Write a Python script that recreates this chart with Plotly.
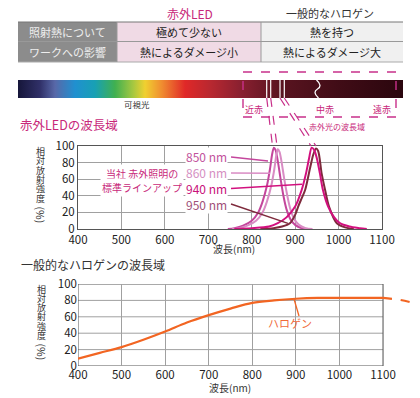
import plotly.graph_objects as go

# ---------------- data ----------------
led_850_x = [745, 760, 780, 800, 815, 825, 835, 842, 847, 851, 855, 860, 866, 873, 880, 890, 900, 915, 930]
led_850_y = [0, 1, 4, 10, 20, 33, 52, 72, 90, 98, 95, 82, 62, 40, 24, 11, 5, 1, 0]
led_860_x = [755, 770, 790, 810, 825, 835, 845, 852, 857, 860, 864, 869, 875, 882, 889, 899, 909, 924, 940]
led_860_y = [0, 1, 4, 10, 20, 33, 52, 72, 90, 96, 93, 80, 60, 40, 24, 11, 5, 1, 0]
led_940_x = [760, 800, 840, 860, 880, 900, 915, 925, 932, 938, 944, 950, 957, 964, 976, 990, 1003, 1025, 1049, 1065]
led_940_y = [0, 1, 3, 7, 14, 27, 47, 67, 85, 98, 95, 85, 67, 47, 27, 14, 7, 3, 1, 0]
led_950_x = [820, 850, 870, 888, 900, 907, 915, 923, 935, 942, 948, 953, 961, 969, 978, 996, 1015, 1035]
led_950_y = [0, 1, 3, 7, 17, 27, 37, 47, 75, 90, 97, 94, 67, 47, 27, 7, 2, 0]
halogen_x = [400, 450, 500, 550, 600, 650, 700, 750, 800, 850, 900, 950, 1000, 1050, 1100]
halogen_y = [9, 16, 23, 32, 42, 53, 62, 70, 77, 80, 82, 83, 83, 83, 83]
halogen_ext_x = [1100, 1135, 1162]
halogen_ext_y = [83, 81, 78]

x_ticks = [400, 500, 600, 700, 800, 900, 1000, 1100]
y_ticks = [0, 20, 40, 60, 80, 100]
led_labels = ["850 nm", "860 nm", "940 nm", "950 nm"]
led_colors = ["#c4469c", "#d98cc4", "#d2107e", "#7e2a3c"]
label_colors = ["#c2529c", "#d58fc2", "#c8107a", "#a05078"]

table_header = ["赤外LED", "一般的なハロゲン"]
table_rows = ["照射熱について", "ワークへの影響"]
table_led = ["極めて少ない", "熱によるダメージ小"]
table_hal = ["熱を持つ", "熱によるダメージ大"]
ylabel_chars = ["相", "対", "放", "射", "強", "度"]

FONT = "Noto Sans CJK JP"
MAG = "#c8287a"
W, H = 420, 398

fig = go.Figure()

# LED curves
for xs, ys, c in [(led_850_x, led_850_y, led_colors[0]), (led_860_x, led_860_y, led_colors[1]),
                  (led_950_x, led_950_y, led_colors[3]), (led_940_x, led_940_y, led_colors[2])]:
    fig.add_trace(go.Scatter(x=xs, y=ys, mode="lines", line=dict(color=c, width=2, shape="spline", smoothing=0.8),
                             xaxis="x", yaxis="y", showlegend=False, hoverinfo="skip"))

# halogen
fig.add_trace(go.Scatter(x=halogen_x, y=halogen_y, mode="lines", line=dict(color="#f26522", width=2.2, shape="spline"),
                         xaxis="x2", yaxis="y2", showlegend=False, hoverinfo="skip"))
fig.add_trace(go.Scatter(x=halogen_ext_x, y=halogen_ext_y, mode="lines",
                         line=dict(color="#f26522", width=2.2, dash="dash", shape="spline"),
                         xaxis="x2", yaxis="y2", showlegend=False, hoverinfo="skip"))

# spectrum bar (pixel canvas axis x3/y3)
spec_scale = [[0, "#16163a"], [0.057, "#303068"], [0.096, "#5868a8"], [0.148, "#2090d0"], [0.2, "#18a0b4"],
              [0.252, "#40b050"], [0.30, "#a8c840"], [0.33, "#f0d030"], [0.374, "#f08c30"], [0.434, "#e02828"],
              [0.5, "#b82830"], [0.577, "#8a2030"], [0.68, "#5a1420"], [0.836, "#400c16"], [1, "#2a060e"]]
fig.add_trace(go.Scatter(x=[18, 403, 403, 18, 18], y=[80, 80, 98, 98, 80], mode="lines", fill="toself",
                         fillgradient=dict(type="horizontal", colorscale=spec_scale, start=18, stop=403),
                         line=dict(width=0), xaxis="x3", yaxis="y3", showlegend=False, hoverinfo="skip"))

ax_common = dict(showgrid=True, gridcolor="#a0a0a0", gridwidth=1, zeroline=False, ticks="", automargin=False,
                 tickfont=dict(size=11.5, color="#222", family=FONT), fixedrange=True)

fig.update_layout(
    template="none",
    width=W, height=H, autosize=False, margin=dict(l=0, r=0, t=0, b=0, pad=0, autoexpand=False),
    paper_bgcolor="white", plot_bgcolor="rgba(0,0,0,0)",
    font=dict(family=FONT, color="#222"),
    xaxis=dict(domain=[78 / W, 382 / W], range=[400, 1100], tickvals=x_ticks, anchor="y",
               showline=True, mirror=True, linecolor="#555", linewidth=1, **ax_common),
    yaxis=dict(domain=[1 - 229 / H, 1 - 146 / H], range=[0, 100], tickvals=y_ticks, anchor="x",
               showline=True, mirror=True, linecolor="#555", linewidth=1, **ax_common),
    xaxis2=dict(domain=[78 / W, 413.5 / W], range=[400, 1170], tickvals=x_ticks, anchor="y2",
                showline=False, **ax_common),
    yaxis2=dict(domain=[1 - 366 / H, 1 - 284 / H], range=[0, 100], tickvals=y_ticks, anchor="x2",
                showline=False, **{**ax_common, "showgrid": False}),
    xaxis3=dict(domain=[0, 1], range=[0, W], visible=False, anchor="y3", fixedrange=True, automargin=False),
    yaxis3=dict(domain=[0, 1], range=[H, 0], visible=False, anchor="x3", fixedrange=True, automargin=False),
)

shapes = []
# chart 2 frame + horizontal grid
for yv in y_ticks[1:-1]:
    shapes.append(dict(type="line", xref="x2", yref="y2", x0=400, x1=1100, y0=yv, y1=yv,
                       line=dict(color="#a0a0a0", width=1), layer="below"))
shapes.append(dict(type="rect", xref="x2", yref="y2", x0=400, x1=1100, y0=0, y1=100,
                   line=dict(color="#555", width=1), layer="below"))

P = dict(xref="x3", yref="y3")
# table
shapes += [
    dict(type="rect", x0=18, x1=117, y0=22, y1=62, fillcolor="#8c8c8c", line=dict(width=0), **P),
    dict(type="rect", x0=117, x1=261, y0=22, y1=62, fillcolor="#f0dae5", line=dict(width=0), **P),
    dict(type="rect", x0=261, x1=403, y0=22, y1=62, fillcolor="#f0f0f0", line=dict(width=0), **P),
    dict(type="line", x0=18, x1=403, y0=22, y1=22, line=dict(color="#777", width=1), **P),
    dict(type="line", x0=18, x1=403, y0=41.5, y1=41.5, line=dict(color="#999", width=1), **P),
    dict(type="line", x0=18, x1=403, y0=62, y1=62, line=dict(color="#aaa", width=1), **P),
    dict(type="line", x0=117, x1=117, y0=22, y1=62, line=dict(color="#999", width=1), **P),
    dict(type="line", x0=261, x1=261, y0=22, y1=62, line=dict(color="#999", width=1), **P),
]
# white marks on spectrum bar
for xw in [266.7, 270.7, 280, 284.3]:
    shapes.append(dict(type="line", x0=xw, x1=xw, y0=80, y1=98, line=dict(color="white", width=1.2), **P))
shapes.append(dict(type="path", path="M 316.5 80 C 321 84, 321 87, 317.5 89 C 314 91, 314 94, 318.5 98",
                   line=dict(color="white", width=1.3), **P))
# dashed IR region box
shapes.append(dict(type="rect", x0=243, x1=396, y0=72, y1=117, line=dict(color="#c8308a", width=1.4, dash="dash"), **P))
# dashed leaders from bar to peaks
for (x0, x1) in [(266.7, 272.5), (270.7, 277), (280, 311), (284.3, 316)]:
    shapes.append(dict(type="line", x0=x0, x1=x1, y0=98, y1=146, line=dict(color="#c8308a", width=1.2, dash="dash"), **P))
# LED label leader lines
leaders = [((231, 157), (268, 161)), ((231, 173), (270, 173.3)), ((231, 188.5), (302, 184.3)), ((231, 204), (288, 223.3))]
for (p0, p1), c in zip(leaders, led_colors):
    shapes.append(dict(type="line", x0=p0[0], y0=p0[1], x1=p1[0], y1=p1[1], line=dict(color=c, width=1.4), **P))
# halogen leader
shapes.append(dict(type="line", x0=294, y0=299, x1=299, y1=316, line=dict(color="#f26522", width=1.3), **P))
fig.update_layout(shapes=shapes)

ann = []
def A(x, y, text, size=11, color="#222", xanchor="center", **kw):
    ann.append(dict(x=x, y=y, text=text, showarrow=False, xref="x3", yref="y3", xanchor=xanchor, yanchor="middle",
                    font=dict(size=size, color=color, family=FONT), **kw))

A(190, 13, table_header[0], 12, MAG)
A(330, 13, table_header[1], 11, "#333")
for i, yy in enumerate([31.5, 51.5]):
    A(67.5, yy, table_rows[i], 11, "#eeeeee")
    A(189, yy, table_led[i], 11, "#222")
    A(332, yy, table_hal[i], 11, "#222")
A(137, 104, "可視光", 8.5, "#333")
A(254, 109, "近赤", 9, MAG)
A(325, 109, "中赤", 9, MAG)
A(382, 109, "遠赤", 9, MAG)
A(337, 126, "赤外光の波長域", 8, MAG)
A(18, 124, "赤外LEDの波長域", 12.5, MAG, xanchor="left")
A(19, 264, "一般的なハロゲンの波長域", 12, "#333", xanchor="left")
# y axis titles (vertical)
for base, xc in [(0, 40), (137.5, 41.5)]:
    for k, ch in enumerate(ylabel_chars):
        A(xc, 151.5 + base + k * 9.3, ch, 9, "#333")
    A(xc, 214.5 + base, "(%)", 10.5, "#333", textangle=90)
A(234, 248, "波長(nm)", 10, "#333")
A(230, 387, "波長(nm)", 10, "#333")
# LED labels
for lab, yy, c in zip(led_labels, [156.5, 172.7, 188.3, 204], label_colors):
    A(228, yy, lab, 12, c, xanchor="right", bgcolor="white", borderpad=0)
A(142, 173.5, "当社 赤外照明の", 10, MAG, bgcolor="white", borderpad=1)
A(142, 187.5, "標準ラインアップ", 10, MAG, bgcolor="white", borderpad=1)
A(290, 323, "ハロゲン", 11, "#f06a3a")
fig.update_layout(annotations=ann)

fig.write_html("out.html", config={"displayModeBar": False, "staticPlot": True},
               post_script="document.body.style.margin='0';document.body.style.overflow='hidden';")
